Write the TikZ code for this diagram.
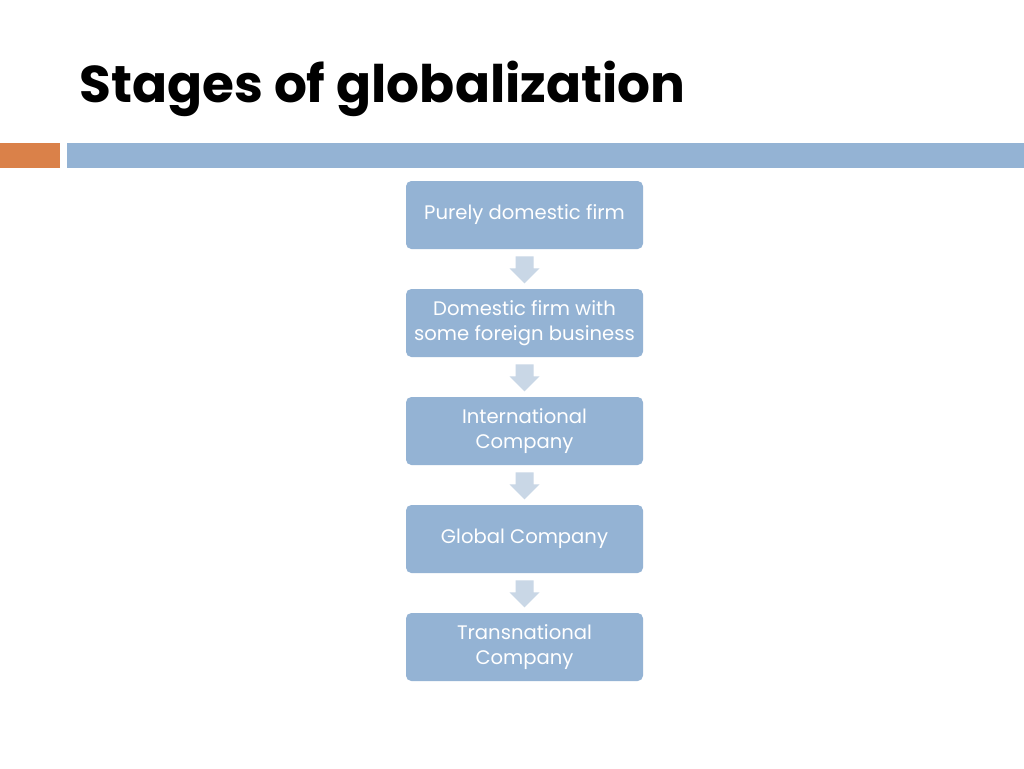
\documentclass[tikz,border=0pt]{standalone}
\usepackage{fontspec}
\setmainfont{Poppins}
\definecolor{boxblue}{HTML}{94B3D4}
\definecolor{barorange}{HTML}{DA8149}
\definecolor{arrowblue}{HTML}{C9D7E6}
\begin{document}
\begin{tikzpicture}[x=0.75pt,y=-0.75pt,
  stagebox/.style={fill=boxblue,rounded corners=4pt,minimum width=177.75pt,minimum height=51pt,
     text=white,align=center,font=\fontsize{14.7}{19}\selectfont,inner sep=0pt},
  downarrow/.style={fill=arrowblue}]
\useasboundingbox (0,0) rectangle (1024,768);
\fill[white] (0,0) rectangle (1024,768);
\node[anchor=base west,font=\fontsize{38.8}{40}\selectfont\bfseries,inner sep=0pt] (title) at (79,102) {Stages of globalization};
\fill[barorange] (0,143) rectangle (60,168);
\fill[boxblue] (67,143) rectangle (1024,168);
\node[stagebox] (b1) at (524.5,215) {\raisebox{-1.5pt}{Purely domestic firm}};
\node[stagebox] (b2) at (524.5,323) {Domestic firm with\\some foreign business};
\node[stagebox] (b3) at (524.5,431) {International\\Company};
\node[stagebox] (b4) at (524.5,539) {\raisebox{-1.5pt}{Global Company}};
\node[stagebox] (b5) at (524.5,647) {Transnational\\Company};
\foreach \a/\b in {b1/b2,b2/b3,b3/b4,b4/b5}{
  \path (\a.south) ++(0,7) coordinate (t);
  \path[downarrow] (t) ++(-9,0) -- ++(18,0) -- ++(0,12) -- ++(6,0) -- ++(-15,15) -- ++(-15,-15) -- ++(6,0) -- cycle;
}
\end{tikzpicture}
\end{document}
